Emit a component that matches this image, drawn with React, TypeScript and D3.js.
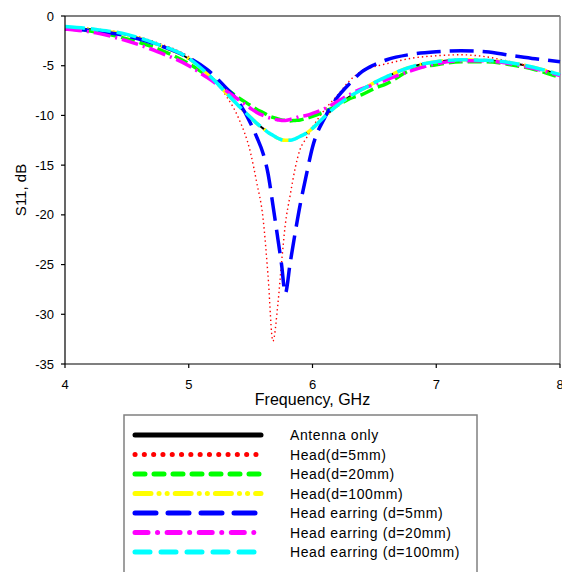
import React from "react";
import * as d3 from "d3";

const freq = [4.0, 4.25, 4.5, 4.75, 5.0, 5.15, 5.3, 5.4, 5.5, 5.55, 5.6, 5.64, 5.68, 5.72, 5.75, 5.78, 5.82, 5.86, 5.9, 5.95, 6.0, 6.1, 6.2, 6.3, 6.4, 6.5, 6.6, 6.8, 7.0, 7.2, 7.4, 7.6, 7.8, 8.0];

const antennaOnly = [-1.15, -1.4, -1.9, -2.9, -4.3, -5.8, -7.7, -9.0, -10.2, -10.8, -11.3, -11.7, -12.0, -12.3, -12.45, -12.5, -12.5, -12.35, -12.1, -11.8, -11.3, -10.1, -9.0, -8.1, -7.4, -6.7, -6.1, -5.1, -4.6, -4.4, -4.45, -4.7, -5.2, -5.9];
const head5 = [-1.1, -1.3, -1.8, -2.7, -4.1, -5.6, -8.0, -10.2, -13.8, -16.8, -20.3, -26.0, -32.7, -29.0, -24.8, -21.0, -18.0, -15.3, -13.4, -12.3, -11.2, -9.4, -8.0, -6.5, -5.5, -5.1, -4.8, -4.25, -4.0, -3.9, -4.1, -4.6, -5.2, -5.9];
const head20 = [-1.2, -1.6, -2.3, -3.3, -4.8, -6.0, -7.3, -8.2, -9.0, -9.4, -9.7, -10.0, -10.2, -10.35, -10.45, -10.5, -10.55, -10.5, -10.45, -10.3, -10.1, -9.6, -9.0, -8.3, -7.9, -7.3, -6.8, -5.4, -4.9, -4.6, -4.6, -4.9, -5.4, -6.2];
const head100 = [-1.15, -1.4, -1.9, -2.9, -4.3, -5.8, -7.7, -9.0, -10.2, -10.8, -11.3, -11.7, -12.0, -12.3, -12.45, -12.5, -12.5, -12.35, -12.1, -11.8, -11.3, -10.1, -9.0, -8.1, -7.4, -6.7, -6.1, -5.1, -4.6, -4.4, -4.45, -4.7, -5.2, -5.9];
const earring5 = [-1.3, -1.5, -2.0, -2.9, -4.2, -5.4, -7.2, -8.6, -10.8, -12.2, -13.8, -15.8, -19.0, -22.4, -25.0, -27.9, -24.8, -21.8, -19.0, -16.0, -13.2, -10.2, -8.2, -6.8, -5.6, -4.9, -4.4, -3.85, -3.6, -3.5, -3.6, -3.95, -4.3, -4.6];
const earring20 = [-1.3, -1.7, -2.5, -3.6, -5.0, -6.2, -7.5, -8.4, -9.3, -9.7, -10.0, -10.2, -10.35, -10.45, -10.5, -10.5, -10.4, -10.25, -10.1, -10.0, -9.8, -9.3, -8.6, -7.9, -7.3, -6.9, -6.4, -5.5, -4.8, -4.5, -4.5, -4.8, -5.3, -6.0];
const earring100 = [-1.05, -1.35, -1.85, -2.85, -4.25, -5.8, -7.7, -9.0, -10.2, -10.8, -11.3, -11.7, -12.0, -12.3, -12.45, -12.5, -12.5, -12.35, -12.1, -11.8, -11.3, -10.1, -9.0, -8.1, -7.4, -6.7, -6.1, -5.1, -4.6, -4.4, -4.45, -4.7, -5.2, -5.9];

const seriesNames = ["Antenna only", "Head(d=5mm)", "Head(d=20mm)", "Head(d=100mm)", "Head earring (d=5mm)", "Head earring (d=20mm)", "Head earring (d=100mm)"];
const seriesValues = [antennaOnly, head5, head20, head100, earring5, earring20, earring100];
const xTicks = [4, 5, 6, 7, 8];
const yTicks = [0, -5, -10, -15, -20, -25, -30, -35];

const colors = ["#000000", "#ff0000", "#00ff00", "#ffff00", "#0000ff", "#ff00ff", "#00ffff"];
const chartStyles = [
  { w: 2, dash: "", cap: "butt" },
  { w: 1.4, dash: "1.4 3", cap: "butt" },
  { w: 3.5, dash: "14 5", cap: "butt" },
  { w: 3.5, dash: "17 5 2 4 2 5", cap: "butt" },
  { w: 3.5, dash: "24 9", cap: "butt" },
  { w: 3.5, dash: "17 5 2 5", cap: "butt" },
  { w: 3.5, dash: "20 6", cap: "butt" },
];
const legendStyles = [
  { w: 5, dash: "", cap: "round" },
  { w: 5, dash: "0.1 9.2", cap: "round" },
  { w: 5, dash: "10 9", cap: "round" },
  { w: 5, dash: "16 8 0.1 8 0.1 8", cap: "round" },
  { w: 5, dash: "21 12", cap: "round" },
  { w: 5, dash: "13 9.5 0.1 9.5", cap: "round" },
  { w: 5, dash: "15 11", cap: "round" },
];

export default function App() {
  const W = 562, H = 572;
  const left = 65, right = 560, top = 16, bottom = 364;
  const x = d3.scaleLinear().domain([4, 8]).range([left, right]);
  const y = d3.scaleLinear().domain([0, -35]).range([top, bottom]);
  const font = "Arial, 'Liberation Sans', sans-serif";

  const line = (vals: number[]) =>
    d3.line<number>()
      .x((_, i) => x(freq[i]))
      .y((v) => y(v))
      .curve(d3.curveMonotoneX)(vals) || "";

  const legLeft = 124, legTop = 415, legRight = 477;
  const rowY = (i: number) => 435 + i * 19.5;

  return (
    <svg width={W} height={H} style={{ position: "absolute", left: 0, top: 0, background: "#fff" }}>
      <rect x={0} y={0} width={W} height={H} fill="#fff" />
      {/* frame */}
      <line x1={left} x2={right} y1={top} y2={top} stroke="#808080" strokeWidth={2} />
      <line x1={right} x2={right} y1={top} y2={bottom} stroke="#808080" strokeWidth={1.5} />
      {/* series */}
      {seriesValues.map((vals, i) => (
        <path key={i} d={line(vals)} fill="none" stroke={colors[i]} strokeWidth={chartStyles[i].w}
          strokeDasharray={chartStyles[i].dash || undefined} strokeLinecap={chartStyles[i].cap as any} />
      ))}
      {/* axes */}
      <line x1={left} x2={left} y1={top} y2={bottom} stroke="#000" strokeWidth={1.2} />
      <line x1={left} x2={right} y1={bottom} y2={bottom} stroke="#000" strokeWidth={1.2} />
      {yTicks.map((t) => (
        <g key={"y" + t}>
          <line x1={left - 4} x2={left} y1={y(t)} y2={y(t)} stroke="#000" strokeWidth={1.2} />
          <text x={54} y={y(t) + 4.5} textAnchor="end" fontFamily={font} fontSize={13} fill="#000">{t}</text>
        </g>
      ))}
      {xTicks.map((t) => (
        <g key={"x" + t}>
          <line x1={x(t)} x2={x(t)} y1={bottom} y2={bottom + 4} stroke="#000" strokeWidth={1.2} />
          <text x={x(t)} y={389} textAnchor="middle" fontFamily={font} fontSize={13} fill="#000">{t}</text>
        </g>
      ))}
      <text x={(left + right) / 2} y={405} textAnchor="middle" fontFamily={font} fontSize={16} fill="#000">Frequency, GHz</text>
      <text transform={`translate(26,${(top + bottom) / 2}) rotate(-90)`} textAnchor="middle" fontFamily={font} fontSize={15} fill="#000">S11, dB</text>
      {/* legend */}
      <rect x={legLeft} y={legTop} width={legRight - legLeft} height={170} fill="#fff" stroke="#808080" strokeWidth={1.5} />
      {seriesNames.map((name, i) => (
        <g key={"l" + i}>
          <line x1={135} x2={261} y1={rowY(i)} y2={rowY(i)} stroke={colors[i]} strokeWidth={legendStyles[i].w}
            strokeDasharray={legendStyles[i].dash || undefined} strokeLinecap={legendStyles[i].cap as any} />
          <text x={290} y={rowY(i) + 5} fontFamily={font} fontSize={14} letterSpacing={0.6} fill="#000">{name}</text>
        </g>
      ))}
    </svg>
  );
}
